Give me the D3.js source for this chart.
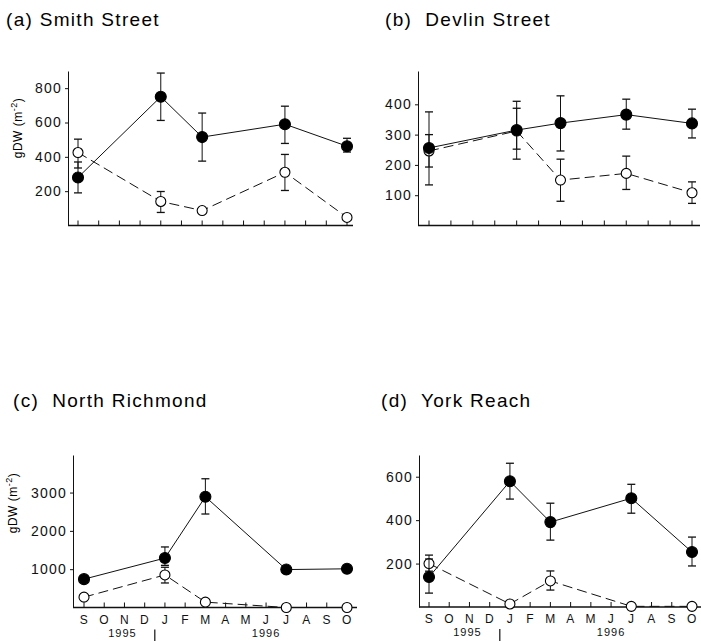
<!DOCTYPE html>
<html>
<head>
<meta charset="utf-8">
<script src="https://cdn.jsdelivr.net/npm/d3@7/dist/d3.min.js"></script>
<style>
  body { margin: 0; background: #fff; }
  svg { display: block; font-family: "Liberation Sans", Arial, sans-serif; }
  .title { font-size: 19px; letter-spacing: 1.3px; white-space: pre; }
  .tick text { font-size: 14px; letter-spacing: 1.2px; fill: #111; }
  .mon { font-size: 12px; letter-spacing: 0.5px; fill: #111; }
  .yr { font-size: 11px; letter-spacing: 1px; fill: #111; }
  .ylab { font-size: 12px; letter-spacing: 0.5px; }
</style>
</head>
<body>
<svg id="chart" width="701" height="641"></svg>
<script>
// month tick labels and sample dates (index into months)
const months = ["S", "O", "N", "D", "J", "F", "M", "A", "M", "J", "J", "A", "S", "O"];
const years = ["1995", "1996"];
const titles = ["(a) Smith Street", "(b)  Devlin Street", "(c)  North Richmond", "(d)  York Reach"];

// (a) Smith Street
const smithFilled = [280, 750, 515, 590, 462];
const smithFilledLo = [190, 612, 375, 478, 428];
const smithFilledHi = [370, 888, 655, 695, 508];
const smithOpen = [425, 140, 87, 310, 47];
const smithOpenLo = [335, 76, null, 204, null];
const smithOpenHi = [503, 198, null, 414, null];

// (b) Devlin Street
const devlinFilled = [256, 315, 338, 366, 337];
const devlinFilledLo = [134, 219, 246, 318, 289];
const devlinFilledHi = [375, 410, 428, 417, 384];
const devlinOpen = [246, 312, 150, 172, 108];
const devlinOpenLo = [193, 252, 80, 119, 73];
const devlinOpenHi = [300, 387, 219, 229, 144];

// (c) North Richmond
const richFilled = [740, 1290, 2890, 990, 1010];
const richFilledLo = [null, 1100, 2440, null, null];
const richFilledHi = [null, 1580, 3360, null, null];
const richOpen = [270, 850, 140, 0, 0];
const richOpenLo = [null, 640, null, null, null];
const richOpenHi = [null, 1050, null, null, null];

// (d) York Reach
const yorkFilled = [138, 579, 391, 501, 253];
const yorkFilledLo = [64, 497, 308, 432, 189];
const yorkFilledHi = [221, 662, 478, 565, 322];
const yorkOpen = [200, 14, 120, 3, 3];
const yorkOpenLo = [165, null, 78, null, null];
const yorkOpenHi = [239, null, 166, null, null];

const yTicksA = [200, 400, 600, 800];
const yTicksB = [100, 200, 300, 400];
const yTicksC = [1000, 2000, 3000];
const yTicksD = [200, 400, 600];

// panel layout
const panels = [
  { title: titles[0], tx: 6, ty: 26, ax: 68, x0: 78, x1: 347, xEnd: 353, nTicks: 14, sIdx: [0, 4, 6, 10, 13],
    yb: 225.5, yt: 71, ymax: 900, yTicks: yTicksA, ylab: [22, 128], months: false,
    f: smithFilled, fLo: smithFilledLo, fHi: smithFilledHi, o: smithOpen, oLo: smithOpenLo, oHi: smithOpenHi },
  { title: titles[1], tx: 385, ty: 26, ax: 418, x0: 429, x1: 692, xEnd: 700, nTicks: 13, sIdx: [0, 4, 6, 9, 12],
    yb: 225.5, yt: 71, ymax: 510, yTicks: yTicksB, ylab: null, months: false,
    f: devlinFilled, fLo: devlinFilledLo, fHi: devlinFilledHi, o: devlinOpen, oLo: devlinOpenLo, oHi: devlinOpenHi },
  { title: titles[2], tx: 13, ty: 407, ax: 73, x0: 84, x1: 347, xEnd: 357, nTicks: 14, sIdx: [0, 4, 6, 10, 13],
    yb: 607.5, yt: 455, ymax: 3980, yTicks: yTicksC, ylab: [17, 503], months: true,
    f: richFilled, fLo: richFilledLo, fHi: richFilledHi, o: richOpen, oLo: richOpenLo, oHi: richOpenHi },
  { title: titles[3], tx: 381, ty: 407, ax: 419, x0: 429, x1: 692, xEnd: 701, nTicks: 14, sIdx: [0, 4, 6, 10, 13],
    yb: 607, yt: 455, ymax: 700, yTicks: yTicksD, ylab: null, months: true,
    f: yorkFilled, fLo: yorkFilledLo, fHi: yorkFilledHi, o: yorkOpen, oLo: yorkOpenLo, oHi: yorkOpenHi }
];

const svg = d3.select('#chart');

panels.forEach(p => {
  const g = svg.append('g');

  // Title
  g.append('text')
    .attr('class', 'title')
    .attr('x', p.tx)
    .attr('y', p.ty)
    .text(p.title);

  // Scales
  const x = d3.scaleLinear().domain([0, p.nTicks - 1]).range([p.x0, p.x1]);
  const y = d3.scaleLinear().domain([0, p.ymax]).range([p.yb, p.yt]);

  // y-axis
  const yAxis = g.append('g')
    .attr('transform', `translate(${p.ax},0)`)
    .call(d3.axisLeft(y).tickValues(p.yTicks).tickFormat(d3.format('d'))
      .tickSize(3).tickPadding(3).tickSizeOuter(0));
  yAxis.select('.domain').attr('stroke', '#111');
  yAxis.selectAll('.tick line').attr('stroke', '#111');

  // x-axis line and inward month ticks
  g.append('line')
    .attr('x1', p.ax).attr('x2', p.xEnd)
    .attr('y1', p.yb).attr('y2', p.yb)
    .attr('stroke', '#111').attr('stroke-width', 1.3);
  g.selectAll('.mtick')
    .data(d3.range(p.nTicks))
    .enter().append('line')
    .attr('x1', d => x(d)).attr('x2', d => x(d))
    .attr('y1', p.yb).attr('y2', p.yb - 5)
    .attr('stroke', '#111');

  if (p.months) {
    g.selectAll('.mon')
      .data(months)
      .enter().append('text')
      .attr('class', 'mon')
      .attr('x', (d, i) => x(i))
      .attr('y', p.yb + 16)
      .attr('text-anchor', 'middle')
      .text(d => d);
    g.selectAll('.yr')
      .data(years)
      .enter().append('text')
      .attr('class', 'yr')
      .attr('x', (d, i) => x(i === 0 ? 1.9 : 9))
      .attr('y', p.yb + 29)
      .attr('text-anchor', 'middle')
      .text(d => d);
    g.append('line')
      .attr('x1', x(3.5)).attr('x2', x(3.5))
      .attr('y1', p.yb + 22).attr('y2', p.yb + 34)
      .attr('stroke', '#111').attr('stroke-width', 1.2);
  }

  // y label
  if (p.ylab) {
    const t = g.append('text')
      .attr('class', 'ylab')
      .attr('transform', `translate(${p.ylab[0]},${p.ylab[1]}) rotate(-90)`)
      .attr('text-anchor', 'middle');
    t.append('tspan').text('gDW (m');
    t.append('tspan').attr('dy', -5).attr('font-size', 9).text('-2');
    t.append('tspan').attr('dy', 5).text(')');
  }

  const series = [
    { v: p.o, lo: p.oLo, hi: p.oHi, filled: false },
    { v: p.f, lo: p.fLo, hi: p.fHi, filled: true }
  ];

  series.forEach(s => {
    const pts = s.v.map((v, i) => ({ xi: p.sIdx[i], v: v, lo: s.lo[i], hi: s.hi[i] }));

    // line
    g.append('path')
      .datum(pts)
      .attr('fill', 'none')
      .attr('stroke', '#111')
      .attr('stroke-width', 1)
      .attr('stroke-dasharray', s.filled ? null : '10,5')
      .attr('d', d3.line().x(d => x(d.xi)).y(d => y(d.v)));

    // error bars
    pts.forEach(d => {
      [d.hi, d.lo].forEach(e => {
        if (e == null) return;
        g.append('line')
          .attr('x1', x(d.xi)).attr('x2', x(d.xi))
          .attr('y1', y(d.v)).attr('y2', y(e))
          .attr('stroke', '#111');
        g.append('line')
          .attr('x1', x(d.xi) - 4).attr('x2', x(d.xi) + 4)
          .attr('y1', y(e)).attr('y2', y(e))
          .attr('stroke', '#111').attr('stroke-width', 1.3);
      });
    });

    // markers
    g.selectAll(null)
      .data(pts)
      .enter().append('circle')
      .attr('cx', d => x(d.xi))
      .attr('cy', d => y(d.v))
      .attr('r', s.filled ? 5.5 : 5)
      .attr('fill', s.filled ? '#000' : '#fff')
      .attr('stroke', '#000')
      .attr('stroke-width', 1.1);
  });
});
</script>
</body>
</html>
